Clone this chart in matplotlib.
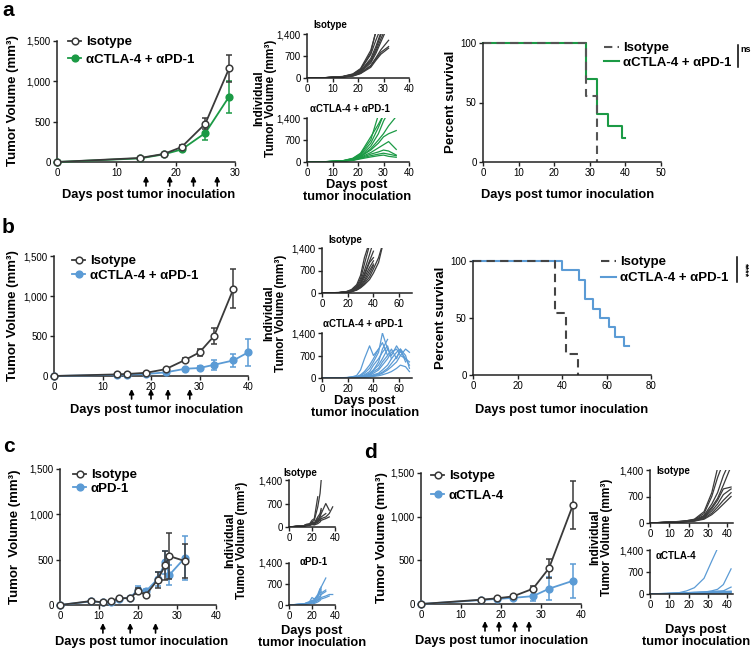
import numpy as np
import matplotlib
matplotlib.use('Agg')
import matplotlib.pyplot as plt
from matplotlib.ticker import FuncFormatter

plt.rcParams['font.family'] = ['Liberation Sans', 'DejaVu Sans']
nan = np.nan

# ---------------- DATA ----------------
GREY = '#3a3a3a'
GREEN = '#1b9a45'
BLUE = '#5b9bd5'

# Panel a: group means
a_days = [0, 14, 18, 21, 25, 29]
a_iso = [0, 50, 100, 185, 475, 1160]
a_iso_err = [0, 8, 12, 25, 70, 170]
a_combo = [0, 45, 95, 155, 360, 810]
a_combo_err = [0, 6, 10, 20, 90, 200]
a_arrow_days = [15, 19, 23, 27]

# Panel a: individual mice
a_ind_iso_days = [0, 7, 14, 18, 21, 25, 27, 29, 32]
a_ind_iso = [
    [0, 10, 40, 110, 260, 750, 1200, 1600, nan],
    [0, 10, 35, 100, 220, 620, 1000, 1450, nan],
    [0, 12, 45, 120, 280, 800, 1500, nan, nan],
    [0, 8, 30, 80, 180, 480, 780, 1150, 1700],
    [0, 8, 30, 70, 150, 400, 640, 900, 1200],
    [0, 10, 40, 90, 200, 520, 850, 1250, 1800],
    [0, 8, 35, 80, 160, 380, 600, 820, 1000],
    [0, 10, 50, 130, 300, 880, 1450, nan, nan],
    [0, 9, 40, 100, 230, 560, 920, 1380, 1900],
    [0, 8, 30, 60, 140, 340, 560, 760, 950],
]
a_ind_combo_days = [0, 7, 14, 18, 21, 25, 28, 30, 32, 35]
a_ind_combo = [
    [0, 10, 40, 110, 260, 700, 1500, nan, nan, nan],
    [0, 10, 35, 100, 230, 600, 1100, 1500, nan, nan],
    [0, 8, 30, 90, 200, 500, 900, 1300, 1600, nan],
    [0, 8, 30, 80, 180, 420, 700, 900, 1150, 1450],
    [0, 8, 30, 80, 170, 380, 600, 800, 900, 1000],
    [0, 8, 30, 70, 150, 300, 450, 550, 650, 400],
    [0, 8, 25, 60, 130, 250, 320, 380, 350, 220],
    [0, 8, 25, 60, 120, 200, 250, 280, 250, 200],
    [0, 6, 20, 50, 100, 160, 200, 220, 180, 150],
    [0, 10, 40, 120, 280, 800, 1200, 1500, nan, nan],
]

# Panel a: survival
a_surv_iso_t = [0, 29, 32]
a_surv_iso = [100, 55.6, 0]
a_surv_combo_t = [0, 29, 32, 35, 39, 40]
a_surv_combo = [100, 70, 40, 30, 20, 20]

# Panel b: group means
b_iso_days = [0, 13, 15, 19, 23, 27, 30, 33, 37]
b_iso = [0, 20, 25, 40, 85, 200, 295, 500, 1090]
b_iso_err = [0, 4, 5, 8, 15, 25, 45, 100, 245]
b_combo_days = [0, 13, 15, 19, 23, 27, 30, 33, 37, 40]
b_combo = [0, 15, 18, 25, 45, 90, 100, 140, 195, 295]
b_combo_err = [0, 3, 4, 6, 10, 15, 20, 65, 85, 170]
b_arrow_days = [16, 20, 23.5, 28]

# Panel b: individual mice
b_ind_iso_days = [0, 13, 19, 23, 27, 30, 33, 37, 40, 44, 47]
b_ind_iso = [
    [0, 15, 40, 90, 220, 450, 900, 1500, nan, nan, nan],
    [0, 12, 35, 80, 200, 380, 700, 1200, 1600, nan, nan],
    [0, 10, 30, 70, 170, 320, 600, 1000, 1300, nan, nan],
    [0, 15, 45, 110, 260, 550, 1100, 1600, nan, nan, nan],
    [0, 10, 30, 60, 140, 260, 480, 800, 1000, nan, nan],
    [0, 10, 25, 55, 120, 220, 400, 700, 900, nan, nan],
    [0, 8, 20, 45, 100, 180, 300, 500, 750, 1100, 1500],
    [0, 8, 20, 40, 90, 160, 260, 420, 620, 950, 1450],
    [0, 10, 30, 70, 150, 300, 550, 950, 1100, nan, nan],
    [0, 9, 25, 50, 110, 200, 350, 600, 850, nan, nan],
]
b_ind_combo_days = [0, 13, 19, 23, 27, 30, 33, 37, 40, 44, 47, 51, 54, 58, 61, 65, 68]
b_ind_combo = [
    [0, 5, 15, 30, 80, 250, 600, 1000, 700, 900, nan, nan, nan, nan, nan, nan, nan],
    [0, 5, 10, 20, 40, 80, 150, 300, 500, 800, 1400, 900, nan, nan, nan, nan, nan],
    [0, 5, 10, 20, 30, 60, 100, 200, 400, 600, 800, 1000, 600, nan, nan, nan, nan],
    [0, 5, 10, 20, 30, 50, 80, 150, 250, 400, 600, 900, 700, 1000, 800, nan, nan],
    [0, 5, 10, 15, 25, 40, 60, 100, 200, 300, 500, 700, 900, 600, 900, 500, nan],
    [0, 5, 10, 15, 20, 30, 50, 80, 150, 250, 400, 600, 800, 900, 700, 600, 400],
    [0, 5, 8, 12, 20, 30, 40, 60, 100, 150, 250, 400, 600, 800, 900, 700, 300],
    [0, 5, 8, 12, 15, 20, 30, 50, 80, 120, 180, 300, 450, 650, 850, 600, 500],
    [0, 5, 10, 20, 40, 100, 200, 400, 600, 900, 1100, 700, nan, nan, nan, nan, nan],
    [0, 5, 8, 10, 15, 20, 25, 40, 60, 100, 150, 250, 350, 500, 700, 900, 800],
    [0, 5, 8, 10, 15, 20, 25, 35, 50, 70, 100, 150, 200, 300, 400, 350, 200],
    [0, 5, 10, 15, 25, 40, 70, 120, 250, 500, 900, 1200, nan, nan, nan, nan, nan],
]

# Panel b: survival
b_surv_iso_t = [0, 37, 42, 47]
b_surv_iso = [100, 54.5, 18.2, 0]
b_surv_combo_t = [0, 40, 47.5, 50.5, 54, 57, 61, 64, 68, 70]
b_surv_combo = [100, 91.7, 83.3, 66.7, 58.3, 50, 41.7, 33.3, 25, 25]

# Panel c: group means
c_days = [0, 8, 11, 13, 15, 18, 20, 22, 25, 27, 28, 32]
c_iso = [0, 44, 29, 40, 73, 77, 154, 110, 276, 441, 540, 485]
c_iso_err = [0, 8, 6, 8, 10, 12, 30, 20, 90, 160, 250, 190]
c_pd1 = [0, 40, 30, 38, 70, 80, 170, 150, 285, 470, 330, 520]
c_pd1_err = [0, 6, 5, 6, 10, 12, 35, 30, 80, 130, 110, 240]
c_arrow_days = [11, 18, 24.5]

# Panel c: individual mice
c_ind_days = [0, 8, 11, 13, 15, 18, 20, 22, 25, 27, 28, 32, 35, 38]
c_ind_iso = [
    [0, 20, 30, 40, 60, 80, 150, 200, 600, 1000, 1400, nan, nan, nan],
    [0, 30, 20, 40, 80, 100, 200, 250, 900, nan, nan, nan, nan, nan],
    [0, 20, 20, 30, 50, 60, 100, 80, 200, 300, 400, 700, 500, nan],
    [0, 20, 25, 30, 60, 70, 120, 100, 150, 200, 250, 300, 400, 600],
    [0, 15, 20, 25, 40, 60, 80, 80, 150, 250, 300, 400, nan, nan],
    [0, 25, 20, 30, 50, 60, 100, 90, 200, 350, 500, nan, nan, nan],
    [0, 20, 15, 25, 40, 50, 70, 60, 100, 150, 200, 250, 300, nan],
    [0, 30, 25, 40, 70, 80, 150, 120, 300, 400, 550, nan, nan, nan],
    [0, 20, 20, 35, 60, 70, 130, 100, 250, 200, nan, nan, nan, nan],
]
c_ind_pd1 = [
    [0, 20, 30, 40, 60, 80, 150, 150, 300, 500, 600, 900, nan, nan],
    [0, 15, 20, 30, 50, 70, 120, 100, 250, 450, 600, nan, nan, nan],
    [0, 20, 25, 30, 50, 60, 100, 120, 200, 300, 400, 500, nan, nan],
    [0, 10, 20, 25, 40, 60, 80, 80, 150, 200, 250, 300, 350, 350],
    [0, 20, 30, 35, 70, 120, 250, 200, 300, 400, 450, nan, nan, nan],
    [0, 15, 20, 30, 40, 50, 80, 100, 150, 250, 350, 450, nan, nan],
    [0, 10, 15, 20, 30, 40, 60, 50, 100, 150, 200, 250, 300, nan],
    [0, 25, 20, 30, 60, 80, 150, 180, 350, 550, 500, nan, nan, nan],
]

# Panel d: group means
d_days = [0, 15, 19, 23, 28, 32, 38]
d_iso = [0, 49, 65, 87, 175, 410, 1135]
d_iso_err = [0, 6, 8, 12, 30, 110, 275]
d_ctla = [0, 45, 58, 70, 90, 175, 266]
d_ctla_err = [0, 5, 6, 10, 60, 130, 195]
d_arrow_days = [16, 19.5, 23.5, 27]

# Panel d: individual mice
d_ind_days = [0, 15, 19, 23, 28, 32, 35, 38, 42]
d_ind_iso = [
    [0, 40, 60, 100, 300, 800, 1450, nan, nan],
    [0, 40, 60, 90, 250, 700, 1200, 1600, nan],
    [0, 35, 50, 80, 200, 500, 800, 1250, 1700],
    [0, 30, 45, 70, 180, 420, 650, 1000, 1500],
    [0, 30, 45, 70, 160, 380, 600, 900, 950],
    [0, 30, 40, 60, 140, 320, 500, 750, 900],
    [0, 25, 40, 55, 120, 260, 420, 600, 800],
    [0, 25, 35, 50, 100, 220, 350, 500, 700],
]
d_ind_ctla = [
    [0, 40, 100, 200, 500, 1050, 1450, nan, nan],
    [0, 20, 30, 40, 60, 100, 150, 300, 800],
    [0, 20, 30, 40, 50, 70, 80, 100, 220],
    [0, 20, 30, 40, 50, 60, 70, 80, 80],
    [0, 30, 40, 60, 70, 80, 90, 90, 60],
    [0, 10, 20, 30, 40, 50, 60, 70, 90],
    [0, 15, 20, 25, 30, 40, 50, 40, 50],
    [0, 10, 15, 20, 25, 30, 30, 30, 30],
]

# ---------------- FIGURE ----------------
W, H = 753, 650
fig = plt.figure(figsize=(W / 100, H / 100), dpi=100)


def box(b):
    l, t, r, bt = b
    return [l / W, 1 - bt / H, (r - l) / W, (bt - t) / H]


def ftext(x, y, s, **kw):
    return fig.text(x / W, 1 - y / H, s, **kw)


comma = FuncFormatter(lambda v, p: f'{int(v):,}')


def make_ax(b, xlim, xticks, ylim, yticks, tls=7):
    ax = fig.add_axes(box(b))
    ax.set_xlim(xlim)
    ax.set_ylim(ylim)
    ax.set_xticks(xticks)
    ax.set_yticks(yticks)
    ax.yaxis.set_major_formatter(comma)
    for s in ['top', 'right']:
        ax.spines[s].set_visible(False)
    for s in ['left', 'bottom']:
        ax.spines[s].set_linewidth(1.1)
        ax.spines[s].set_color('#222222')
    ax.tick_params(direction='out', length=3, width=1, labelsize=tls, pad=1.5,
                   color='#222222')
    ax.patch.set_alpha(0)
    return ax


def growth(ax, days, mean, err, color, filled, label, z):
    ax.errorbar(days, mean, yerr=err, fmt='none', ecolor=color, elinewidth=1.1,
                capsize=2.5, capthick=1.1, zorder=z, clip_on=False)
    ln, = ax.plot(days, mean, color=color, lw=1.3, marker='o', ms=4.8,
                  mfc=(color if filled else 'white'), mec=color, mew=1.1,
                  label=label, zorder=z + 0.5, clip_on=False)
    return ln


def arrows(ax, b, days, tip, base):
    l, t, r, bt = b
    h = bt - t
    for d in days:
        ax.annotate('', xy=(d, (bt - tip) / h), xytext=(d, (bt - base) / h),
                    xycoords=('data', 'axes fraction'),
                    textcoords=('data', 'axes fraction'),
                    arrowprops=dict(arrowstyle='-|>', color='black', lw=1.2,
                                    mutation_scale=7, shrinkA=0, shrinkB=0),
                    annotation_clip=False)


def individual(ax, days, curves, color):
    for c in curves:
        ax.plot(days, c, color=color, lw=0.9)


def legend(ax, handles, x, y, spacing, hl=1.0):
    return ax.legend(handles=handles, loc='upper left',
                     bbox_to_anchor=(x / W, 1 - y / H),
                     bbox_transform=fig.transFigure, frameon=False, borderpad=0,
                     borderaxespad=0, handlelength=hl, handletextpad=0.35,
                     labelspacing=spacing, numpoints=1,
                     prop=dict(weight='bold', size=9.5))


YL = "Tumor Volume (mm\u00b3)"
IND = "Individual\nTumor Volume (mm\u00b3)"
XL = "Days post tumor inoculation"
XL2 = "Days post\ntumor inoculation"
COMBO = "\u03b1CTLA-4 + \u03b1PD-1"

# ----- panel a -----
A1 = (57, 41, 235, 162)
ax = make_ax(A1, (0, 30), [0, 10, 20, 30], (0, 1500), [0, 500, 1000, 1500])
h2 = growth(ax, a_days, a_combo, a_combo_err, GREEN, True, COMBO, 3)
h1 = growth(ax, a_days, a_iso, a_iso_err, GREY, False, 'Isotype', 4)
legend(ax, [h1, h2], 68, 36, 0.4)
arrows(ax, A1, a_arrow_days, 176, 186)

A2t = (307, 34, 409, 78)
ax = make_ax(A2t, (0, 40), [0, 10, 20, 30, 40], (0, 1400), [0, 700, 1400])
individual(ax, a_ind_iso_days, a_ind_iso, GREY)
A2b = (307, 118, 409, 162)
ax = make_ax(A2b, (0, 40), [0, 10, 20, 30, 40], (0, 1400), [0, 700, 1400])
individual(ax, a_ind_combo_days, a_ind_combo, GREEN)

A3 = (483, 43, 661, 162)
ax = make_ax(A3, (0, 50), [0, 10, 20, 30, 40, 50], (0, 100), [0, 50, 100])
s2, = ax.step(a_surv_combo_t, a_surv_combo, where='post', color=GREEN, lw=1.5,
              label=COMBO, clip_on=False)
s1, = ax.step(a_surv_iso_t, a_surv_iso, where='post', color='#555555', lw=1.5,
              ls=(0, (4, 2.5)), label='Isotype', clip_on=False)
legend(ax, [s1, s2], 604, 42, 0.2, hl=1.1)

# ----- panel b -----
B1 = (54, 256, 248, 376)
ax = make_ax(B1, (0, 40), [0, 10, 20, 30, 40], (0, 1500), [0, 500, 1000, 1500])
h2 = growth(ax, b_combo_days, b_combo, b_combo_err, BLUE, True, COMBO, 3)
h1 = growth(ax, b_iso_days, b_iso, b_iso_err, GREY, False, 'Isotype', 4)
legend(ax, [h1, h2], 72, 255, 0.18)
arrows(ax, B1, b_arrow_days, 389, 399)

B2t = (322, 248, 412, 293)
ax = make_ax(B2t, (0, 70), [0, 20, 40, 60], (0, 1400), [0, 700, 1400])
individual(ax, b_ind_iso_days, b_ind_iso, GREY)
B2b = (322, 333, 412, 378)
ax = make_ax(B2b, (0, 70), [0, 20, 40, 60], (0, 1400), [0, 700, 1400])
individual(ax, b_ind_combo_days, b_ind_combo, BLUE)

B3 = (473, 261, 651, 375)
ax = make_ax(B3, (0, 80), [0, 20, 40, 60, 80], (0, 100), [0, 50, 100])
s2, = ax.step(b_surv_combo_t, b_surv_combo, where='post', color=BLUE, lw=1.5,
              label=COMBO, clip_on=False)
s1, = ax.step(b_surv_iso_t, b_surv_iso, where='post', color='#444444', lw=1.5,
              ls=(0, (4, 2.5)), label='Isotype', clip_on=False)
legend(ax, [s1, s2], 601, 256, 0.28, hl=1.1)

# ----- panel c -----
C1 = (60, 469, 216, 605)
ax = make_ax(C1, (0, 40), [0, 10, 20, 30, 40], (0, 1500), [0, 500, 1000, 1500])
h2 = growth(ax, c_days, c_pd1, c_pd1_err, BLUE, True, '\u03b1PD-1', 3)
h1 = growth(ax, c_days, c_iso, c_iso_err, GREY, False, 'Isotype', 4)
legend(ax, [h1, h2], 73, 469, 0.12)
arrows(ax, C1, c_arrow_days, 623, 633)

C2t = (289, 480, 335, 527)
ax = make_ax(C2t, (0, 40), [0, 20, 40], (0, 1400), [0, 700, 1400])
individual(ax, c_ind_days, c_ind_iso, GREY)
C2b = (289, 563, 335, 605)
ax = make_ax(C2b, (0, 40), [0, 20, 40], (0, 1400), [0, 700, 1400])
individual(ax, c_ind_days, c_ind_pd1, BLUE)

# ----- panel d -----
D1 = (421, 473, 581, 604)
ax = make_ax(D1, (0, 40), [0, 10, 20, 30, 40], (0, 1500), [0, 500, 1000, 1500])
h2 = growth(ax, d_days, d_ctla, d_ctla_err, BLUE, True, '\u03b1CTLA-4', 3)
h1 = growth(ax, d_days, d_iso, d_iso_err, GREY, False, 'Isotype', 4)
legend(ax, [h1, h2], 431, 470, 0.55)
arrows(ax, D1, d_arrow_days, 621, 631)

D2t = (650, 470, 733, 523)
ax = make_ax(D2t, (0, 43), [0, 10, 20, 30, 40], (0, 1400), [0, 700, 1400])
individual(ax, d_ind_days, d_ind_iso, GREY)
D2b = (650, 550, 733, 594)
ax = make_ax(D2b, (0, 43), [0, 10, 20, 30, 40], (0, 1400), [0, 700, 1400])
individual(ax, d_ind_days, d_ind_ctla, BLUE)

# ---------------- TEXT ----------------
for (x, y, s) in [(2, 10, 'a'), (2, 228, 'b'), (3, 446, 'c'), (364, 453, 'd')]:
    ftext(x, y, s, fontsize=15, fontweight='bold', ha='left', va='center')

for (x, y, s) in [(13, 101, YL), (13, 316, YL), (15, 537, "Tumor  Volume (mm\u00b3)"),
                  (382, 538, YL)]:
    ftext(x, y, s, rotation=90, fontsize=9.5, fontweight='bold', ha='center',
          va='center')
for (x, y) in [(451, 102), (441, 318)]:
    ftext(x, y, 'Percent survival', rotation=90, fontsize=9.5, fontweight='bold',
          ha='center', va='center')
for (x, y) in [(265, 98), (275, 313), (236, 540), (601, 537)]:
    ftext(x, y, IND, rotation=90, fontsize=8.6, fontweight='bold', ha='center',
          va='center', multialignment='center', linespacing=1.0)

for (x, y) in [(149, 195), (568, 195), (157, 410), (562, 410), (142, 642), (502, 641)]:
    ftext(x, y, XL, fontsize=9.3, fontweight='bold', ha='center', va='center')
for (x, y) in [(357, 191), (365, 407), (312, 637), (696, 636)]:
    ftext(x, y, XL2, fontsize=9.3, fontweight='bold', ha='center', va='center',
          multialignment='center', linespacing=1.05)

for (x, y, s) in [(313, 25, 'Isotype'), (310, 109, COMBO), (328, 240, 'Isotype'),
                  (323, 324, COMBO), (283, 473, 'Isotype'), (300, 562, '\u03b1PD-1'),
                  (656, 471, 'Isotype'), (656, 556, '\u03b1CTLA-4')]:
    ftext(x, y, s, fontsize=7, fontweight='bold', ha='left', va='center')

# significance bars
ax_sig = fig.add_axes([0, 0, 1, 1], zorder=-1)
ax_sig.set_xlim(0, W)
ax_sig.set_ylim(H, 0)
ax_sig.axis('off')
ax_sig.plot([738, 738], [45, 67], color='black', lw=1.1)
ax_sig.text(740, 50, 'ns', fontsize=6.5, fontweight='bold', ha='left', va='center')
ax_sig.plot([737, 737], [257, 282], color='black', lw=1.1)
ax_sig.text(745, 270, '****', fontsize=6.5, fontweight='bold', ha='center',
            va='center', rotation=270)

fig.savefig('out.png', dpi=100)
